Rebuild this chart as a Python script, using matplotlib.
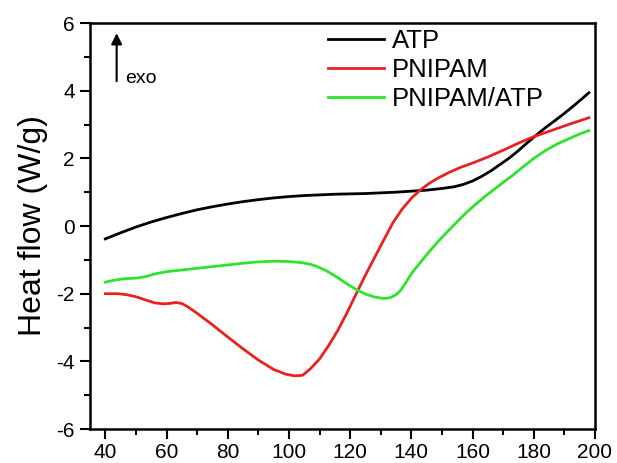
import numpy as np
import matplotlib
matplotlib.use('Agg')
import matplotlib.pyplot as plt

plt.rcParams['font.family'] = ['Liberation Sans', 'DejaVu Sans']
plt.rcParams['axes.unicode_minus'] = False

# ATP
atp_x = [40, 45, 50, 55, 60, 65, 70, 75, 80, 85, 90, 95, 100, 105, 110, 115, 120,
         125, 130, 135, 140, 145, 150, 154, 157, 160, 163, 166, 169, 172, 175, 178,
         181, 184, 187, 190, 193, 196, 198]
atp_y = [-0.38, -0.20, -0.03, 0.12, 0.25, 0.37, 0.48, 0.57, 0.65, 0.72, 0.78, 0.83,
         0.87, 0.90, 0.92, 0.94, 0.95, 0.96, 0.98, 1.00, 1.03, 1.06, 1.11, 1.16, 1.23,
         1.33, 1.47, 1.63, 1.82, 2.01, 2.23, 2.47, 2.70, 2.92, 3.12, 3.33, 3.55, 3.78,
         3.94]

# PNIPAM
pn_x = [40, 44, 47, 50, 53, 56, 59, 61, 63, 65, 67, 70, 75, 80, 85, 90, 95, 99, 102,
        104.5, 107, 110, 113, 116, 119, 122, 125, 128, 131, 134, 137, 140, 143, 146,
        149, 152, 156, 160, 165, 170, 175, 180, 186, 192, 198]
pn_y = [-2.00, -2.00, -2.03, -2.09, -2.18, -2.27, -2.30, -2.29, -2.26, -2.29, -2.39,
        -2.58, -2.92, -3.28, -3.63, -3.96, -4.24, -4.38, -4.43, -4.41, -4.22, -3.93,
        -3.53, -3.08, -2.56, -2.00, -1.45, -0.93, -0.41, 0.10, 0.50, 0.82, 1.07, 1.27,
        1.43, 1.57, 1.73, 1.86, 2.04, 2.24, 2.45, 2.64, 2.83, 3.02, 3.20]

# PNIPAM/ATP
pa_x = [40, 43, 46, 50, 53, 56, 60, 65, 70, 75, 80, 85, 90, 95, 100, 104, 107, 109,
        111, 113, 116, 119, 122, 125, 128, 131, 133, 135, 136.5, 138, 140, 143, 146,
        149, 152, 155, 158, 161, 164, 167, 170, 173, 176, 180, 184, 188, 192, 195, 198]
pa_y = [-1.66, -1.60, -1.56, -1.54, -1.50, -1.42, -1.35, -1.30, -1.25, -1.20, -1.15,
        -1.10, -1.06, -1.04, -1.05, -1.08, -1.13, -1.19, -1.27, -1.36, -1.53, -1.71,
        -1.88, -2.01, -2.10, -2.14, -2.12, -2.03, -1.90, -1.70, -1.41, -1.07, -0.74,
        -0.43, -0.15, 0.13, 0.40, 0.64, 0.87, 1.08, 1.29, 1.49, 1.71, 2.00, 2.24, 2.44,
        2.60, 2.72, 2.82]

fig = plt.figure(figsize=(6.17, 4.63), dpi=100)
ax = fig.add_axes([0.1459, 0.0734, 0.8184, 0.8769])

ax.plot(atp_x, atp_y, color='black', lw=2.0, label='ATP')
ax.plot(pn_x, pn_y, color='#e8231f', lw=2.0, label='PNIPAM')
ax.plot(pa_x, pa_y, color='#2ee32e', lw=2.0, label='PNIPAM/ATP')

ax.set_xlim(35, 200)
ax.set_ylim(-6, 6)
ax.set_xticks(np.arange(40, 201, 20))
ax.set_xticks(np.arange(50, 200, 20), minor=True)
ax.set_yticks(np.arange(-6, 7, 2))
ax.set_yticks(np.arange(-5, 6, 2), minor=True)
ax.tick_params(which='major', direction='out', length=7, width=1.5, pad=4)
ax.tick_params(which='minor', direction='out', length=4, width=1.5)
ax.tick_params(axis='x', labelsize=15, pad=3)
ax.tick_params(axis='y', labelsize=15)
for sp in ax.spines.values():
    sp.set_linewidth(1.8)

ax.set_ylabel('Heat flow (W/g)', fontsize=23, labelpad=6)

# exo arrow
ax.annotate('', xy=(43.7, 5.78), xytext=(43.7, 4.2),
            arrowprops=dict(arrowstyle='-|>', color='black', lw=1.5, mutation_scale=16))
ax.text(46.6, 4.23, 'exo', fontsize=14, va='baseline', ha='left')

ax.legend(loc='upper left', bbox_to_anchor=(0.471, 0.985), frameon=False,
          fontsize=18.5, handlelength=2.2, handletextpad=0.3, labelspacing=0.2,
          borderpad=0, borderaxespad=0)

fig.savefig('out.png', dpi=100)
